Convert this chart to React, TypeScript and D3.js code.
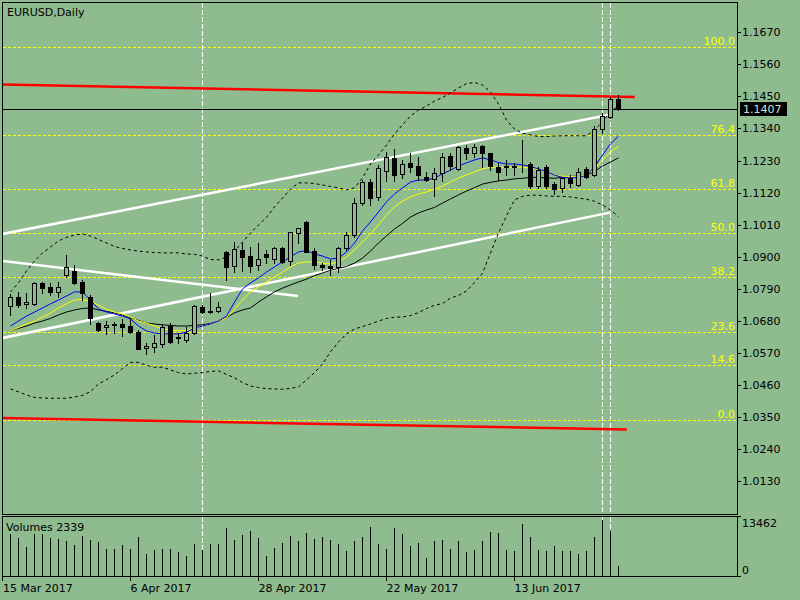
import React from 'react';
import * as d3 from 'd3';

// ---------- data (EURUSD Daily, 16 Mar 2017 .. 22 Jun 2017) ----------
const open = [1.0731,1.0763,1.0739,1.0738,1.0811,1.0797,1.0779,1.0837,1.0852,1.0814,1.0763,1.0673,1.0659,1.0667,1.0669,1.0663,1.0643,1.0586,1.0591,1.0599,1.0662,1.0620,1.0614,1.0637,1.0728,1.0714,1.0712,1.0917,1.0868,1.0923,1.0902,1.0870,1.0909,1.0891,1.0929,1.0885,1.0982,1.1018,1.0921,1.0871,1.0868,1.0864,1.0929,1.0974,1.1083,1.1157,1.1104,1.1195,1.1238,1.1184,1.1222,1.1211,1.1172,1.1166,1.1186,1.1246,1.1200,1.1272,1.1255,1.1280,1.1255,1.1209,1.1210,1.1209,1.1212,1.1218,1.1143,1.1207,1.1149,1.1135,1.1169,1.1146,1.1200,1.1180,1.1337,1.1378,1.1440];
const high = [1.0772,1.0780,1.0776,1.0814,1.0814,1.0810,1.0813,1.0906,1.0871,1.0820,1.0768,1.0677,1.0680,1.0676,1.0686,1.0686,1.0648,1.0603,1.0631,1.0669,1.0673,1.0638,1.0660,1.0734,1.0734,1.0774,1.0744,1.0919,1.0951,1.0946,1.0934,1.0946,1.0923,1.0934,1.0934,1.0986,1.0997,1.1023,1.0929,1.0879,1.0889,1.0934,1.0986,1.1100,1.1163,1.1166,1.1215,1.1260,1.1269,1.1232,1.1255,1.1241,1.1192,1.1203,1.1255,1.1255,1.1280,1.1283,1.1287,1.1283,1.1257,1.1222,1.1232,1.1222,1.1300,1.1226,1.1207,1.1215,1.1157,1.1174,1.1180,1.1203,1.1207,1.1348,1.1394,1.1449,1.1455];
const low = [1.0700,1.0727,1.0724,1.0734,1.0775,1.0768,1.0762,1.0831,1.0806,1.0751,1.0669,1.0646,1.0635,1.0638,1.0628,1.0638,1.0582,1.0566,1.0574,1.0589,1.0603,1.0605,1.0608,1.0635,1.0706,1.0706,1.0709,1.0820,1.0848,1.0852,1.0848,1.0854,1.0879,1.0877,1.0879,1.0871,1.0946,1.0917,1.0857,1.0854,1.0837,1.0848,1.0923,1.0969,1.1077,1.1077,1.1095,1.1161,1.1161,1.1169,1.1192,1.1163,1.1161,1.1108,1.1161,1.1197,1.1197,1.1234,1.1241,1.1209,1.1197,1.1163,1.1180,1.1180,1.1192,1.1135,1.1135,1.1135,1.1115,1.1123,1.1140,1.1143,1.1169,1.1177,1.1325,1.1375,1.1403];
const close = [1.0763,1.0734,1.0743,1.0810,1.0792,1.0780,1.0796,1.0865,1.0811,1.0774,1.0688,1.0648,1.0666,1.0669,1.0660,1.0643,1.0583,1.0594,1.0603,1.0659,1.0608,1.0625,1.0639,1.0731,1.0710,1.0711,1.0727,1.0864,1.0925,1.0900,1.0868,1.0891,1.0898,1.0929,1.0883,1.0984,1.0997,1.0917,1.0871,1.0863,1.0860,1.0929,1.0974,1.1083,1.1157,1.1100,1.1203,1.1243,1.1180,1.1218,1.1209,1.1180,1.1163,1.1186,1.1243,1.1211,1.1277,1.1255,1.1275,1.1255,1.1211,1.1192,1.1208,1.1211,1.1210,1.1143,1.1197,1.1143,1.1131,1.1169,1.1152,1.1192,1.1174,1.1337,1.1383,1.1440,1.1407];
const volume = [10156,9189,7013,10156,10156,9189,8948,8464,7497,9673,8706,8222,6529,6529,7497,6529,9431,5320,6287,6529,6529,5804,4837,7739,6287,7739,7739,11608,8706,9915,10882,9189,4837,6771,7980,9673,8464,10399,8948,9431,8706,7739,6046,8464,9431,11850,7739,6529,11608,10156,7255,7980,4353,8464,8706,6529,8464,5804,6287,8464,10641,10399,6287,6046,12575,9431,6287,6046,7255,6046,6046,5320,6046,9431,13462,10882,2339];

// indicators
const maBlue = [1.0662,1.0679,1.0696,1.0710,1.0724,1.0738,1.0751,1.0765,1.0779,1.0779,1.0751,1.0720,1.0710,1.0703,1.0696,1.0686,1.0662,1.0645,1.0638,1.0635,1.0635,1.0635,1.0641,1.0655,1.0662,1.0669,1.0679,1.0696,1.0744,1.0789,1.0810,1.0827,1.0847,1.0865,1.0882,1.0899,1.0916,1.0921,1.0909,1.0902,1.0892,1.0895,1.0916,1.0947,1.0988,1.1019,1.1053,1.1088,1.1115,1.1136,1.1156,1.1163,1.1163,1.1170,1.1184,1.1197,1.1211,1.1222,1.1232,1.1239,1.1232,1.1223,1.1218,1.1218,1.1215,1.1209,1.1201,1.1191,1.1180,1.1172,1.1170,1.1172,1.1179,1.1208,1.1249,1.1287,1.1314];
const maYellow = [1.0645,1.0657,1.0669,1.0678,1.0693,1.0706,1.0724,1.0738,1.0751,1.0753,1.0746,1.0734,1.0719,1.0710,1.0703,1.0693,1.0679,1.0672,1.0662,1.0652,1.0647,1.0646,1.0646,1.0655,1.0662,1.0669,1.0678,1.0690,1.0720,1.0751,1.0779,1.0796,1.0813,1.0830,1.0847,1.0865,1.0878,1.0882,1.0882,1.0877,1.0875,1.0882,1.0899,1.0923,1.0950,1.0978,1.1009,1.1043,1.1071,1.1091,1.1105,1.1115,1.1122,1.1131,1.1143,1.1156,1.1170,1.1180,1.1191,1.1201,1.1207,1.1207,1.1207,1.1207,1.1207,1.1204,1.1199,1.1189,1.1180,1.1176,1.1175,1.1176,1.1180,1.1201,1.1232,1.1260,1.1278];
const bbMid = [1.0645,1.0654,1.0662,1.0672,1.0679,1.0688,1.0700,1.0710,1.0717,1.0722,1.0724,1.0717,1.0712,1.0707,1.0700,1.0690,1.0681,1.0672,1.0669,1.0666,1.0664,1.0662,1.0662,1.0664,1.0666,1.0671,1.0678,1.0691,1.0707,1.0717,1.0724,1.0744,1.0762,1.0779,1.0792,1.0803,1.0813,1.0823,1.0835,1.0844,1.0853,1.0860,1.0866,1.0878,1.0895,1.0919,1.0947,1.0971,1.0995,1.1014,1.1036,1.1050,1.1060,1.1069,1.1084,1.1098,1.1112,1.1125,1.1137,1.1149,1.1155,1.1160,1.1163,1.1167,1.1169,1.1172,1.1172,1.1170,1.1169,1.1172,1.1175,1.1177,1.1180,1.1192,1.1211,1.1225,1.1239];
const bbUpper = [1.0779,1.0810,1.0851,1.0885,1.0913,1.0933,1.0954,1.0966,1.0974,1.0978,1.0971,1.0959,1.0947,1.0935,1.0928,1.0923,1.0919,1.0916,1.0914,1.0913,1.0913,1.0913,1.0909,1.0908,1.0902,1.0890,1.0889,1.0899,1.0919,1.0950,1.0981,1.1009,1.1035,1.1071,1.1101,1.1132,1.1153,1.1153,1.1151,1.1146,1.1141,1.1136,1.1129,1.1136,1.1170,1.1218,1.1249,1.1283,1.1321,1.1352,1.1383,1.1403,1.1417,1.1434,1.1446,1.1462,1.1479,1.1494,1.1498,1.1489,1.1465,1.1424,1.1369,1.1338,1.1323,1.1318,1.1312,1.1312,1.1314,1.1315,1.1315,1.1315,1.1315,1.1335,1.1362,1.1397,1.1417];
const bbLower = [1.0446,1.0436,1.0425,1.0417,1.0415,1.0414,1.0414,1.0414,1.0418,1.0424,1.0437,1.0463,1.0478,1.0494,1.0516,1.0537,1.0537,1.0527,1.0520,1.0521,1.0511,1.0502,1.0497,1.0500,1.0502,1.0506,1.0508,1.0496,1.0484,1.0468,1.0456,1.0451,1.0447,1.0446,1.0445,1.0448,1.0453,1.0477,1.0502,1.0532,1.0573,1.0607,1.0635,1.0652,1.0660,1.0669,1.0679,1.0688,1.0692,1.0693,1.0698,1.0708,1.0722,1.0733,1.0739,1.0758,1.0767,1.0782,1.0811,1.0843,1.0913,1.0981,1.1040,1.1095,1.1107,1.1111,1.1111,1.1108,1.1107,1.1107,1.1105,1.1101,1.1097,1.1090,1.1077,1.1060,1.1037];

// axis labels
const priceTicks = [1.1670,1.1560,1.1450,1.1340,1.1230,1.1120,1.1010,1.0900,1.0790,1.0680,1.0570,1.0460,1.0350,1.0240,1.0130];
const dateLabels = ['15 Mar 2017','6 Apr 2017','28 Apr 2017','22 May 2017','13 Jun 2017'];
const dateIdx = [-1,15,31,47,63];

// fibonacci retracement
const fibLow = 1.0340;
const fibHigh = 1.1620;
const fibLevels = [0,14.6,23.6,38.2,50,61.8,76.4,100];
const fibLabels = ['0.0','14.6','23.6','38.2','50.0','61.8','76.4','100.0'];

// drawn objects (bar index, price)
const redLines = [
  { i1: -0.9, p1: 1.1491, i2: 78.1, p2: 1.1448 },
  { i1: -0.9, p1: 1.0346, i2: 77.1, p2: 1.0307 },
];
const whiteLines = [
  { i1: -0.9, p1: 1.0978, i2: 75.1, p2: 1.1388 },
  { i1: -0.9, p1: 1.0621, i2: 75.1, p2: 1.1052 },
  { i1: -0.9, p1: 1.0885, i2: 36.0, p2: 1.0765 },
];
const vLineIdx = [24, 74, 75];
const lastPrice = 1.1407;
const lastVolume = 2339;
const maxVolume = 13462;

const BG = '#8fbc8f';
const FONT = 'DejaVu Sans';

export default function App() {
  const L = 2.5, R = 737.5, T = 2.5, MB = 514.5, VT = 516.5, VB = 576.5;
  const x = d3.scaleLinear().domain([-1, 76]).range([2, 618]);
  const y = d3.scaleLinear().domain([1.013, 1.167]).range([481, 32.3]);
  const yv = d3.scaleLinear().domain([0, maxVolume]).range([576, 520]);
  const idx = d3.range(close.length);
  const lineOf = (arr: number[]) =>
    d3.line<number>().x((_, i) => x(i) + 0.5).y((d) => y(d))(arr) as string;

  return (
    <svg
      width={800}
      height={600}
      style={{ position: 'absolute', left: 0, top: 0, display: 'block' }}
      fontFamily={FONT}
      fontSize={11}
    >
      <defs>
        <clipPath id="mainClip">
          <rect x={3} y={3} width={734} height={511} />
        </clipPath>
        <clipPath id="volClip">
          <rect x={3} y={517} width={734} height={59} />
        </clipPath>
      </defs>
      <rect x={0} y={0} width={800} height={600} fill={BG} />

      {/* ---------- main panel ---------- */}
      <g clipPath="url(#mainClip)">
        {/* vertical dashed lines */}
        {vLineIdx.map((i) => (
          <line key={'v' + i} x1={x(i) + 0.5} x2={x(i) + 0.5} y1={3} y2={514}
            stroke="#fff" strokeDasharray="5,2" shapeRendering="crispEdges" />
        ))}
        {/* fibonacci levels */}
        {fibLevels.map((lv, k) => {
          const py = Math.round(y(fibLow + ((fibHigh - fibLow) * lv) / 100)) + 0.5;
          return (
            <g key={'f' + k}>
              <line x1={3} x2={737} y1={py} y2={py} stroke="#ffff00" strokeDasharray="3,2" shapeRendering="crispEdges" />
              <text x={735} y={py - 2.5} textAnchor="end" fill="#ffff00">{fibLabels[k]}</text>
            </g>
          );
        })}
        {/* current price line */}
        <line x1={3} x2={737} y1={Math.round(y(lastPrice)) + 0.5} y2={Math.round(y(lastPrice)) + 0.5}
          stroke="#000" shapeRendering="crispEdges" />
        {/* red lines */}
        {redLines.map((l, k) => (
          <line key={'r' + k} x1={x(l.i1)} y1={y(l.p1)} x2={x(l.i2)} y2={y(l.p2)}
            stroke="#ff0000" strokeWidth={2.5} />
        ))}
        {/* white trend lines */}
        {whiteLines.map((l, k) => (
          <line key={'w' + k} x1={x(l.i1)} y1={y(l.p1)} x2={x(l.i2)} y2={y(l.p2)}
            stroke="#ffffff" strokeWidth={2.5} />
        ))}
        {/* bollinger bands */}
        <path d={lineOf(bbUpper)} fill="none" stroke="#000" strokeDasharray="3,3" />
        <path d={lineOf(bbLower)} fill="none" stroke="#000" strokeDasharray="3,3" />
        <path d={lineOf(bbMid)} fill="none" stroke="#000" strokeWidth={1} />
        <path d={lineOf(maYellow)} fill="none" stroke="#ffff00" strokeWidth={1} />
        <path d={lineOf(maBlue)} fill="none" stroke="#0000ff" strokeWidth={1} />
        {/* candles */}
        {idx.map((i) => {
          const cx = Math.round(x(i)) + 0.5;
          const bull = close[i] > open[i];
          const yt = Math.round(y(Math.max(open[i], close[i])));
          const yb = Math.round(y(Math.min(open[i], close[i])));
          return (
            <g key={'c' + i} shapeRendering="crispEdges">
              <line x1={cx} x2={cx} y1={Math.round(y(high[i]))} y2={Math.round(y(low[i])) + 1} stroke="#000" />
              <rect x={cx - 2} y={yt + 0.5} width={4} height={Math.max(yb - yt, 0)}
                fill={bull ? BG : '#000'} stroke="#000" />
            </g>
          );
        })}
      </g>
      <text x={7} y={16} fill="#000">EURUSD,Daily</text>

      {/* ---------- volume panel ---------- */}
      <g clipPath="url(#volClip)">
        {vLineIdx.map((i) => (
          <line key={'vv' + i} x1={x(i) + 0.5} x2={x(i) + 0.5} y1={517} y2={576}
            stroke="#fff" strokeDasharray="5,2" shapeRendering="crispEdges" />
        ))}
        {idx.map((i) => (
          <line key={'vol' + i} x1={Math.round(x(i)) + 0.5} x2={Math.round(x(i)) + 0.5}
            y1={576} y2={Math.round(yv(volume[i]))} stroke="#000" shapeRendering="crispEdges" />
        ))}
      </g>
      <text x={6} y={531} fill="#000">{'Volumes ' + lastVolume}</text>

      {/* ---------- frames ---------- */}
      <g fill="none" stroke="#000" shapeRendering="crispEdges">
        <path d={`M${L},${T}H${R}V${MB}H${L}Z`} />
        <path d={`M${L},${VT}H${R}V${VB}H${L}Z`} />
      </g>

      {/* ---------- price axis ---------- */}
      {priceTicks.map((p) => {
        const py = Math.round(y(p)) + 0.5;
        return (
          <g key={'pt' + p}>
            <line x1={737} x2={741} y1={py} y2={py} stroke="#000" shapeRendering="crispEdges" />
            <text x={742} y={py} dominantBaseline="central" fill="#000">{p.toFixed(4)}</text>
          </g>
        );
      })}
      <rect x={740} y={102} width={47} height={14} fill="#000" />
      <text x={743} y={Math.round(y(lastPrice)) + 0.5} dominantBaseline="central" fill="#cde0cd">
        {lastPrice.toFixed(4)}
      </text>

      {/* volume axis */}
      <line x1={737} x2={741} y1={VT} y2={VT} stroke="#000" shapeRendering="crispEdges" />
      <line x1={737} x2={741} y1={576} y2={576} stroke="#000" shapeRendering="crispEdges" />
      <text x={742} y={527} fill="#000">{String(maxVolume)}</text>
      <text x={742} y={574} fill="#000">0</text>

      {/* ---------- time axis ---------- */}
      {dateIdx.map((di, k) => {
        const tx = Math.round(x(di)) + 0.5;
        return (
          <g key={'d' + k}>
            <line x1={tx} x2={tx} y1={576} y2={581} stroke="#000" shapeRendering="crispEdges" />
            <text x={Math.max(tx, 3)} y={592} fill="#000">{dateLabels[k]}</text>
          </g>
        );
      })}
    </svg>
  );
}
